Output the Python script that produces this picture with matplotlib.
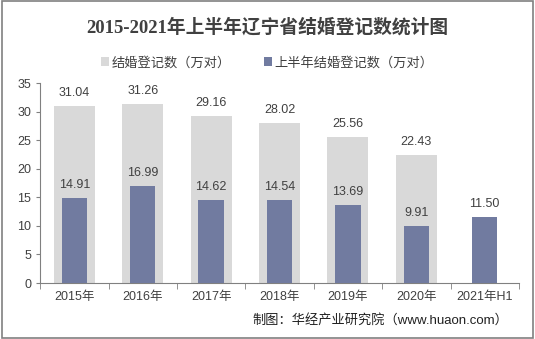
import numpy as np
import matplotlib.pyplot as plt
from matplotlib.patches import Rectangle

plt.rcParams['font.family'] = ['Liberation Sans', 'Noto Sans CJK SC', 'DejaVu Sans']

# data
categories = ["2015年", "2016年", "2017年", "2018年", "2019年", "2020年", "2021年H1"]
total = [31.04, 31.26, 29.16, 28.02, 25.56, 22.43, np.nan]
half_year = [14.91, 16.99, 14.62, 14.54, 13.69, 9.91, 11.50]

gray = "#D9D9D9"
blue = "#717BA0"
txt = "#404040"

fig = plt.figure(figsize=(5.35, 3.39), dpi=100)
ax = fig.add_axes([0.075, 0.165, 0.895, 0.59])

x = np.arange(len(categories))
ax.bar(x, total, width=0.6, color=gray, label="结婚登记数（万对）", zorder=2)
ax.bar(x, half_year, width=0.37, color=blue, label="上半年结婚登记数（万对）", zorder=3)

for xi, v in zip(x, total):
    if not np.isnan(v):
        ax.annotate(f"{v:.2f}", (xi, v), xytext=(0, 5), textcoords="offset points",
                    ha="center", va="bottom", fontsize=9, color=txt)
for xi, v in zip(x, half_year):
    ax.annotate(f"{v:.2f}", (xi, v), xytext=(0, 5), textcoords="offset points",
                ha="center", va="bottom", fontsize=9, color=txt)

ax.set_xlim(-0.5, len(categories) - 0.5)
ax.set_ylim(0, 35)
ax.set_yticks(range(0, 36, 5))
ax.set_xticks(x)
ax.set_xticklabels(categories)
ax.set_xticks(np.arange(-0.5, len(categories), 1), minor=True)
ax.tick_params(axis="x", which="major", length=0, labelsize=9, labelcolor=txt, pad=6)
ax.tick_params(axis="x", which="minor", length=4, color="#808080")
ax.tick_params(axis="y", length=3, color="#808080", labelsize=9, labelcolor=txt)

for s in ["top", "right"]:
    ax.spines[s].set_visible(False)
ax.spines["left"].set_color("#808080")
ax.spines["bottom"].set_color("#808080")

fig.text(0.5, 0.92, "2015-2021年上半年辽宁省结婚登记数统计图", ha="center", va="center",
         fontsize=13.5, fontweight="bold", color=txt,
         family=['Liberation Serif', 'Noto Sans CJK SC'])
fig.legend(loc="center", bbox_to_anchor=(0.5, 0.815), ncol=2, frameon=False,
           fontsize=9.5, handlelength=0.6, handleheight=0.6, handletextpad=0.2,
           columnspacing=2.5, labelcolor=txt)
fig.text(0.95, 0.055, "制图：华经产业研究院（www.huaon.com）", ha="right", va="center",
         fontsize=9.5, color="#202020")

# outer border
fig.patches.append(Rectangle((0.003, 0.004), 0.994, 0.992, transform=fig.transFigure,
                             fill=False, edgecolor="#808080", linewidth=1.2))

fig.savefig("out.png", dpi=100)
